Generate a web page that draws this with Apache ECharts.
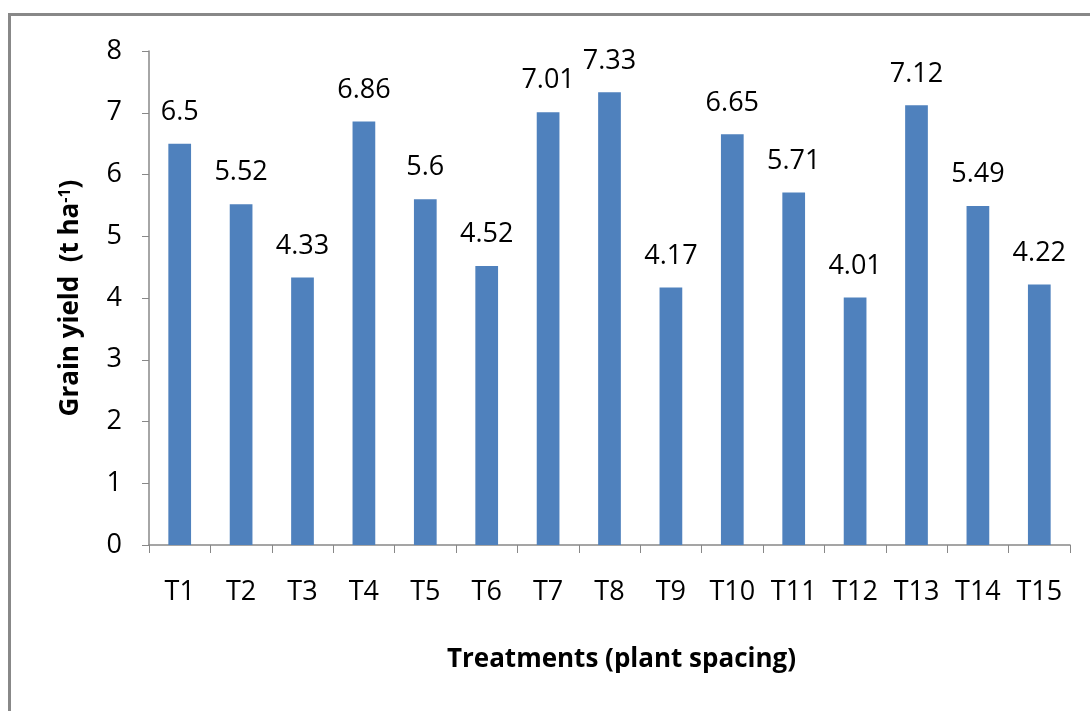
<!DOCTYPE html>
<html>
<head>
<meta charset="utf-8">
<script src="https://cdn.jsdelivr.net/npm/echarts@6/dist/echarts.min.js"></script>
<style>
  html, body { margin: 0; padding: 0; background: #fff; }
  #frame {
    position: absolute; left: 8px; top: 13px;
    width: 1200px; height: 800px;
    border-left: 3px solid #888; border-top: 3px solid #888;
  }
  #chart { position: absolute; left: 0; top: 0; width: 1090px; height: 711px; }
</style>
</head>
<body>
<div id="frame"></div>
<div id="chart"></div>
<script>
// Grain yield per treatment (t/ha)
const treatments = ['T1', 'T2', 'T3', 'T4', 'T5', 'T6', 'T7', 'T8', 'T9', 'T10', 'T11', 'T12', 'T13', 'T14', 'T15'];
const grainYield = [6.5, 5.52, 4.33, 6.86, 5.6, 4.52, 7.01, 7.33, 4.17, 6.65, 5.71, 4.01, 7.12, 5.49, 4.22];
const yTicks = [0, 1, 2, 3, 4, 5, 6, 7, 8];

const fontFamily = '"Open Sans", "Noto Sans", sans-serif';
const chart = echarts.init(document.getElementById('chart'));

chart.setOption({
  animation: false,
  grid: { left: 149, right: 20, top: 51, bottom: 166 },
  xAxis: {
    type: 'category',
    data: treatments,
    name: 'Treatments (plant spacing)',
    nameLocation: 'middle',
    nameGap: 102,
    nameTextStyle: { fontFamily, fontSize: 26, fontWeight: 'bold', color: '#000', padding: [0, 0, 0, 24] },
    axisLine: { lineStyle: { color: '#888', width: 1.5 } },
    axisTick: { show: true, length: 8, lineStyle: { color: '#888' } },
    axisLabel: { fontFamily, fontSize: 27, color: '#000', margin: 34 },
  },
  yAxis: {
    type: 'value',
    min: yTicks[0],
    max: yTicks[yTicks.length - 1],
    interval: 1,
    name: '{n|Grain yield  (t ha}{s|-1}{n|)}',
    nameLocation: 'middle',
    nameGap: 64,
    nameTextStyle: {
      rich: {
        n: { fontFamily, fontSize: 26, fontWeight: 'bold', color: '#000' },
        s: { fontFamily, fontSize: 16, fontWeight: 'bold', color: '#000', verticalAlign: 'top', padding: [0, 0, 12, 0] }
      }
    },
    axisLine: { show: true, lineStyle: { color: '#888', width: 1.5 } },
    axisTick: { show: true, length: 7, lineStyle: { color: '#888' } },
    axisLabel: { fontFamily, fontSize: 27, color: '#000', margin: 27 },
    splitLine: { show: false },
  },
  series: [{
    type: 'bar',
    data: grainYield,
    barWidth: '37%',
    itemStyle: { color: '#4F81BD' },
    label: {
      show: true,
      position: 'top',
      distance: 18,
      fontFamily,
      fontSize: 27,
      color: '#000',
    },
  }],
});
</script>
</body>
</html>
